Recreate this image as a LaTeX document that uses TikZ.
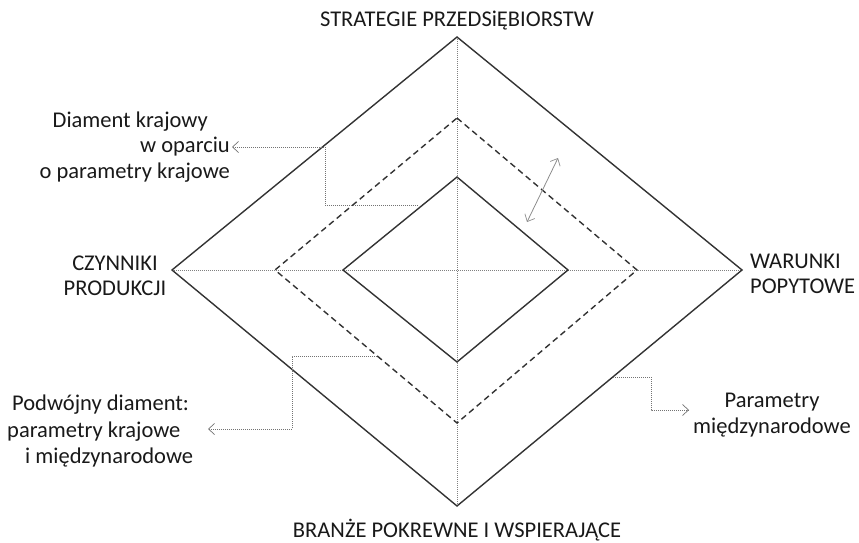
\documentclass[tikz,border=0pt]{standalone}
\usepackage{fontspec}
\setmainfont{Carlito}
\usetikzlibrary{arrows.meta}
\begin{document}
\begin{tikzpicture}[x=1pt,y=-1pt,
  solidline/.style={draw=black!80,line width=1.4pt,line join=miter},
  dashline/.style={draw=black!80,line width=1.4pt,dash pattern=on 6pt off 4pt},
  axis/.style={draw=black!50,line width=0.7pt,dash pattern=on 1pt off 1pt},
  conn/.style={draw=black!55,line width=0.8pt,dash pattern=on 1pt off 1pt,-{Straight Barb[length=6pt,width=11pt,line width=0.7pt]}},
  dbl/.style={draw=black!45,line width=0.8pt,{Straight Barb[length=6pt,width=11pt,line width=0.7pt]}-{Straight Barb[length=6pt,width=11pt,line width=0.7pt]}},
  lbl/.style={font=\fontsize{22.5}{25.5}\selectfont,text=black!90,inner sep=0pt}]
\useasboundingbox (0,0) rectangle (859,543);
% vertices
\coordinate (T1) at (457,37);  \coordinate (L1) at (172,270);
\coordinate (R1) at (742,270); \coordinate (B1) at (457,506);
\coordinate (T2) at (457,118); \coordinate (L2) at (275,270);
\coordinate (R2) at (637,270); \coordinate (B2) at (457,423);
\coordinate (T3) at (457,177); \coordinate (L3) at (343,270);
\coordinate (R3) at (568,270); \coordinate (B3) at (457,362);
% axes
\draw[axis] (T1) -- (B1);
\draw[axis] (L1) -- (R1);
% diamonds
\draw[solidline] (T1) -- (R1) -- (B1) -- (L1) -- cycle;
\draw[dashline] (T2) -- (R2) -- (B2) -- (L2) -- cycle;
\draw[solidline] (T3) -- (R3) -- (B3) -- (L3) -- cycle;
% labels
\node[lbl,anchor=base] (top) at (457,27) {STRATEGIE PRZEDSiĘBIORSTW};
\node[lbl,anchor=base] (bot) at (457,537) {BRANŻE POKREWNE I WSPIERAJĄCE};
\node[lbl,align=center] (left) at (115,276) {CZYNNIKI\\PRODUKCJI};
\node[lbl,align=left,anchor=west] (right) at (750,274) {WARUNKI\\POPYTOWE};
\node[lbl,align=right,anchor=east] (dk) at (230,147) {Diament krajowy\hspace*{22pt}\\w oparciu\hspace*{55pt}\\o parametry krajowe};
\node[lbl,align=left,anchor=west,font=\fontsize{22.5}{26.5}\selectfont] (pd) at (7,431) {\hspace*{5pt}Podwójny diament:\\parametry krajowe\\\hspace*{18pt}i międzynarodowe};
\node[lbl,align=center] (pm) at (772,415) {Parametry\\międzynarodowe};
% connectors
\coordinate (dks) at (418,205); \coordinate (dk1) at (325,205);
\coordinate (dk2) at (325,147); \coordinate (dke) at (232,147);
\draw[conn] (dks) -- (dk1) -- (dk2) -- (dke);
\coordinate (pds) at (377,356); \coordinate (pd1) at (292,356);
\coordinate (pd2) at (292,429); \coordinate (pde) at (208,429);
\draw[conn] (pds) -- (pd1) -- (pd2) -- (pde);
\coordinate (pms) at (613,377); \coordinate (pm1) at (651,377);
\coordinate (pm2) at (651,410); \coordinate (pme) at (689,410);
\draw[conn] (pms) -- (pm1) -- (pm2) -- (pme);
\coordinate (da) at (527,222); \coordinate (db) at (558,158);
\draw[dbl] (da) -- (db);
\end{tikzpicture}
\end{document}
